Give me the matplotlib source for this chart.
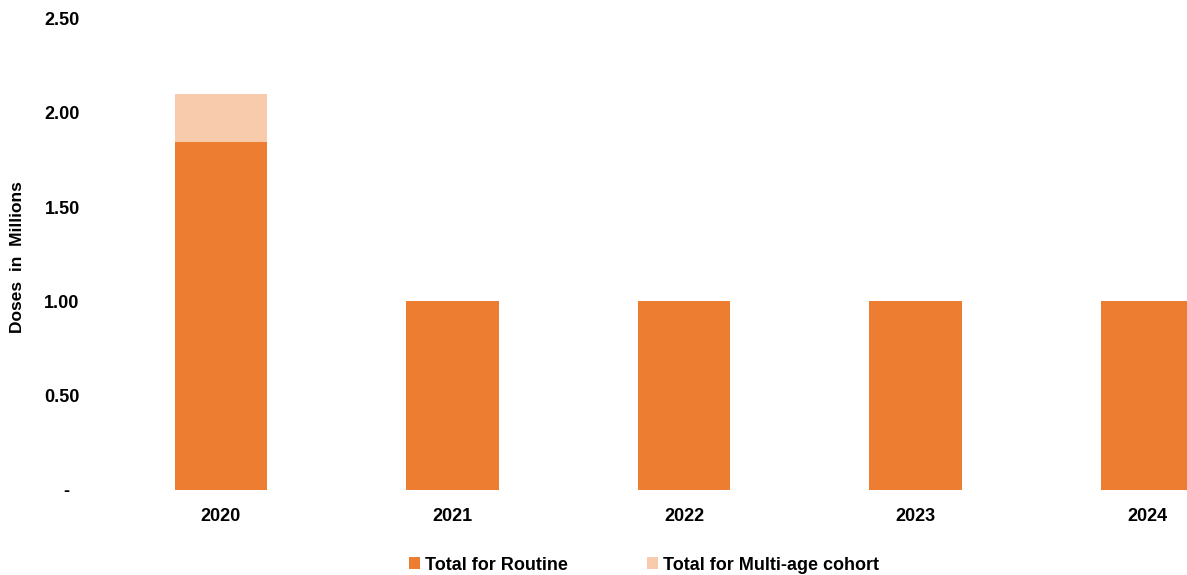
import matplotlib.pyplot as plt
import numpy as np

years = ["2020", "2021", "2022", "2023", "2024"]
routine = [1.845, 1.0, 1.0, 1.0, 1.0]
multi_age = [0.255, 0.0, 0.0, 0.0, 0.0]
y_ticks = [0.0, 0.5, 1.0, 1.5, 2.0, 2.5]
y_tick_labels = ["-  ", "0.50", "1.00", "1.50", "2.00", "2.50"]

plt.rcParams['font.family'] = ['Liberation Sans', 'DejaVu Sans']
plt.rcParams['font.weight'] = 'bold'

W, H = 1187, 575
fig = plt.figure(figsize=(W / 100, H / 100), dpi=100)

# axes pixels: left 95, bottom 490 (zero line), top 18.5 (2.50)
step = 231.5
left_px = 95
x0 = -(221 - left_px) / step
right_px = 221 + 4.6 * step
ax = fig.add_axes([left_px / W, (H - 490) / H,
                   (right_px - left_px) / W, (490 - 18.5) / H])

x = np.arange(len(years))
width = 0.4
ax.bar(x, routine, width, color='#ED7D31', label='Total for Routine')
ax.bar(x, multi_age, width, bottom=routine, color='#F8CBAD',
       label='Total for Multi-age cohort')

ax.set_xlim(x0, 4.6)
ax.set_ylim(0, 2.5)
ax.set_yticks(y_ticks)
ax.set_yticklabels(y_tick_labels)
ax.set_xticks(x)
ax.set_xticklabels(years)
ax.tick_params(axis='both', length=0, labelsize=13)
ax.tick_params(axis='y', pad=11)
ax.tick_params(axis='x', pad=13)
for s in ax.spines.values():
    s.set_visible(False)

fig.text(18 / W, 1 - 257 / H, 'Doses  in  Millions', rotation=90,
         ha='center', va='center', fontsize=12.5, fontweight='bold')

fig.legend(loc='center', bbox_to_anchor=(644 / W, 1 - 565 / H), ncol=2,
           frameon=False, fontsize=13, handlelength=0.6, handleheight=0.6,
           handletextpad=0.25, columnspacing=4.4)

fig.savefig('out.png', dpi=100)
